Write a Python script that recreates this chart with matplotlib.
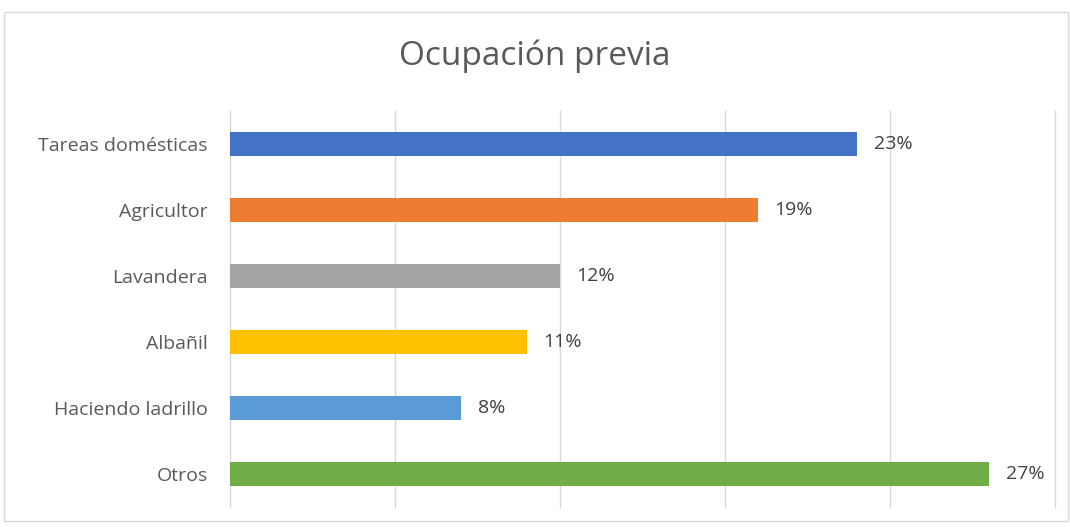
import numpy as np
import matplotlib.pyplot as plt
from matplotlib.patches import Rectangle

plt.rcParams['font.family'] = ['Open Sans', 'DejaVu Sans']

# categories (top to bottom) and counts
categorias = ["Tareas domésticas", "Agricultor", "Lavandera", "Albañil",
              "Haciendo ladrillo", "Otros"]
conteos = [38, 32, 20, 18, 14, 46]
colores = ["#4472C4", "#ED7D31", "#A5A5A5", "#FFC000", "#5B9BD5", "#70AD47"]

porcentajes = np.array(conteos) / sum(conteos)

fig = plt.figure(figsize=(10.7, 5.27), dpi=100)
ax = fig.add_axes([230 / 1070, 20 / 527, 825 / 1070, 396 / 527])

# chart border like the spreadsheet frame
fig.patches.append(Rectangle((4 / 1070, 6 / 527), 1064 / 1070, 509 / 527,
                             transform=fig.transFigure, fill=False,
                             edgecolor="#D9D9D9", linewidth=1))

y = np.arange(len(categorias))
ax.barh(y, conteos, height=0.36, color=colores, zorder=3)

for yi, c, p in zip(y, conteos, porcentajes):
    ax.annotate(f"{p:.0%}", (c, yi), xytext=(12, 0), textcoords="offset points",
                va="center", ha="left", fontsize=14, color="#404040")

ax.set_yticks(y)
ax.set_yticklabels(categorias, fontsize=14, color="#595959")
ax.set_ylim(len(categorias) - 0.5, -0.5)
ax.set_xlim(0, 50)
ax.set_xticks(np.arange(0, 51, 10))
ax.set_xticklabels([])
ax.tick_params(axis="both", length=0)
ax.tick_params(axis="y", pad=16)
ax.grid(axis="x", color="#D9D9D9", linewidth=1, zorder=0)
for gl in ax.get_xgridlines():
    gl.set_clip_on(False)
for s in ax.spines.values():
    s.set_visible(False)

fig.text(0.5, 1 - 56 / 527, "Ocupación previa", ha="center", va="center",
         fontsize=24, color="#595959")

fig.savefig("out.png", dpi=100)
